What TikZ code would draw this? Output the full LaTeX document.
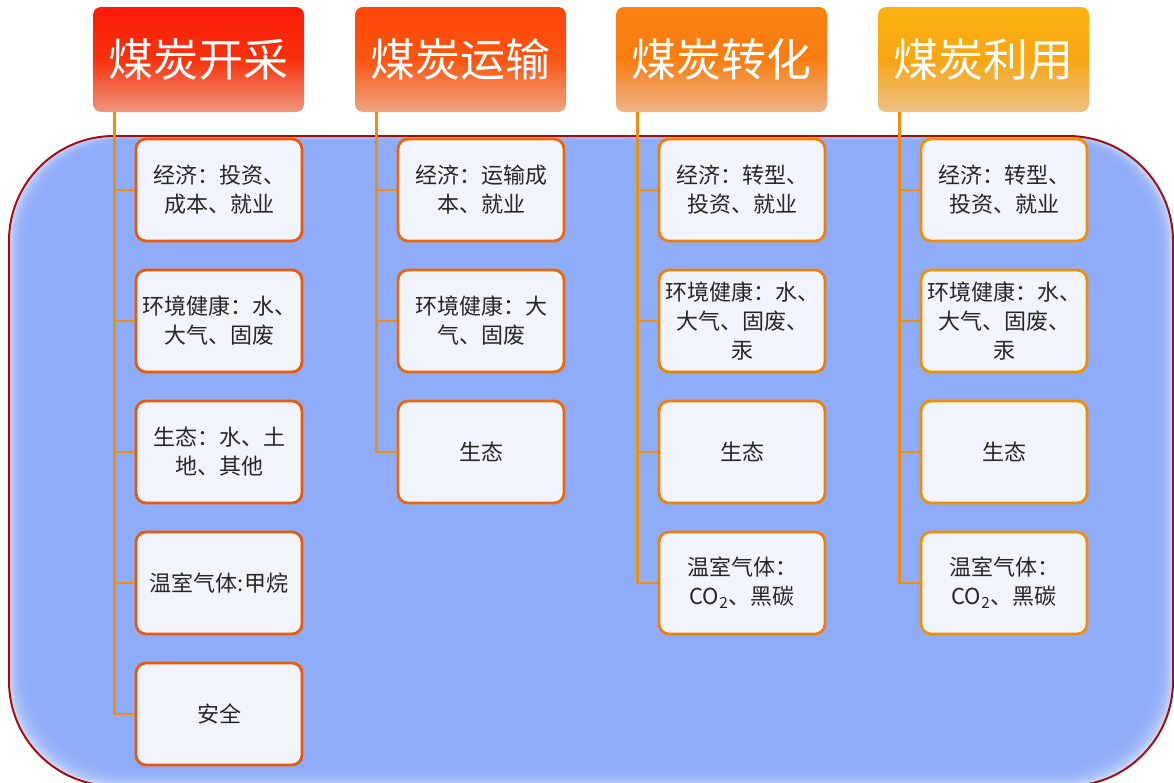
\documentclass[tikz,border=0pt]{standalone}
\usepackage{fontspec}
\setmainfont{Noto Sans CJK SC}
\usetikzlibrary{calc}
\definecolor{bgblue}{RGB}{143,172,248}
\definecolor{bgedge}{RGB}{205,218,252}
\definecolor{bgborder}{RGB}{160,16,16}
\definecolor{leaffill}{RGB}{241,244,253}
\definecolor{linkc}{RGB}{236,142,16}
\definecolor{bdA}{RGB}{232,90,10}
\definecolor{bdB}{RGB}{234,104,10}
\definecolor{bdC}{RGB}{238,128,8}
\definecolor{bdD}{RGB}{240,144,0}
\definecolor{hAtop}{RGB}{255,26,10}
\definecolor{hAmid}{RGB}{248,50,12}
\definecolor{hAbot}{RGB}{238,150,125}
\definecolor{hBtop}{RGB}{255,70,10}
\definecolor{hBmid}{RGB}{250,85,16}
\definecolor{hBbot}{RGB}{238,165,130}
\definecolor{hCtop}{RGB}{252,128,16}
\definecolor{hCmid}{RGB}{248,125,18}
\definecolor{hCbot}{RGB}{236,180,135}
\definecolor{hDtop}{RGB}{252,178,16}
\definecolor{hDmid}{RGB}{248,165,18}
\definecolor{hDbot}{RGB}{236,192,135}
\tikzset{
  head/.style={rounded corners=8pt, minimum width=211pt, minimum height=105pt,
    text=white, inner sep=0pt, font=\fontsize{45}{50}\selectfont},
  leaf/.style={rounded corners=10pt, draw, line width=2.8pt, fill=leaffill,
    minimum width=166pt, minimum height=102pt, inner sep=2pt, align=center,
    text=black!85, font=\fontsize{22}{29}\selectfont},
  link/.style={draw=linkc, line width=2.8pt}
}
\begin{document}
\begin{tikzpicture}[x=1pt,y=-1pt]
\useasboundingbox (0,0) rectangle (1174,782);
% background panel
\fill[bgedge, rounded corners=105pt] (9,136) rectangle (1173,786);
\foreach \i in {1,...,10}{
  \fill[bgblue, opacity=0.3, rounded corners=105pt] (9+2*\i,136+0.6*\i) rectangle (1173-2*\i,786-2*\i);
}
\draw[bgborder, line width=2pt, rounded corners=105pt] (9,136) rectangle (1173,786);
% headers
\node[head, top color=hAtop, bottom color=hAbot, middle color=hAmid] (h1) at (198.5,59.5) {煤炭开采};
\node[head, top color=hBtop, bottom color=hBbot, middle color=hBmid] (h2) at (460.5,59.5) {煤炭运输};
\node[head, top color=hCtop, bottom color=hCbot, middle color=hCmid] (h3) at (721.5,59.5) {煤炭转化};
\node[head, top color=hDtop, bottom color=hDbot, middle color=hDmid] (h4) at (983.5,59.5) {煤炭利用};
% column 1
\node[leaf, draw=bdA] (a1) at (219,190) {经济：投资、\\成本、就业};
\node[leaf, draw=bdA] (a2) at (219,321) {环境健康：水、\\大气、固废};
\node[leaf, draw=bdA] (a3) at (219,452) {生态：水、土\\地、其他};
\node[leaf, draw=bdA] (a4) at (219,583) {温室气体:甲烷};
\node[leaf, draw=bdA] (a5) at (219,714) {安全};
% column 2
\node[leaf, draw=bdB] (b1) at (481,190) {经济：运输成\\本、就业};
\node[leaf, draw=bdB] (b2) at (481,321) {环境健康：大\\气、固废};
\node[leaf, draw=bdB] (b3) at (481,452) {生态};
% column 3
\node[leaf, draw=bdC] (c1) at (742,190) {经济：转型、\\投资、就业};
\node[leaf, draw=bdC] (c2) at (742,321) {环境健康：水、\\大气、固废、\\汞};
\node[leaf, draw=bdC] (c3) at (742,452) {生态};
\node[leaf, draw=bdC] (c4) at (742,583) {温室气体：\\CO\textsubscript{2}、黑碳};
% column 4
\node[leaf, draw=bdD] (d1) at (1004,190) {经济：转型、\\投资、就业};
\node[leaf, draw=bdD] (d2) at (1004,321) {环境健康：水、\\大气、固废、\\汞};
\node[leaf, draw=bdD] (d3) at (1004,452) {生态};
\node[leaf, draw=bdD] (d4) at (1004,583) {温室气体：\\CO\textsubscript{2}、黑碳};
% connectors
\coordinate (t1) at ($(h1.south west)+(22,0)$);
\coordinate (t2) at ($(h2.south west)+(22,0)$);
\coordinate (t3) at ($(h3.south west)+(22,0)$);
\coordinate (t4) at ($(h4.south west)+(22,0)$);
\foreach \n in {a1,a2,a3,a4,a5}{ \draw[link] (t1) |- (\n.west); }
\foreach \n in {b1,b2,b3}{ \draw[link] (t2) |- (\n.west); }
\foreach \n in {c1,c2,c3,c4}{ \draw[link] (t3) |- (\n.west); }
\foreach \n in {d1,d2,d3,d4}{ \draw[link] (t4) |- (\n.west); }
\end{tikzpicture}
\end{document}
